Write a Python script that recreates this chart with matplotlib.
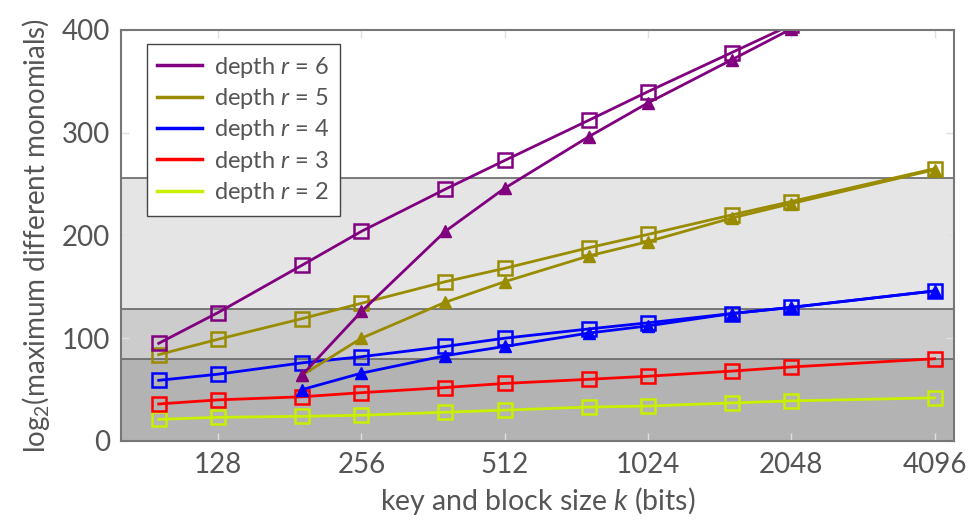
import matplotlib
matplotlib.use('Agg')
import matplotlib.pyplot as plt
from matplotlib.lines import Line2D
from matplotlib.ticker import FixedLocator, FixedFormatter, NullLocator

plt.rcParams['font.family'] = ['Lato', 'DejaVu Sans']
plt.rcParams['mathtext.fontset'] = 'custom'
plt.rcParams['mathtext.rm'] = 'Lato'
plt.rcParams['mathtext.it'] = 'Lato:italic'

#key sizes
k_sq = [96, 128, 192, 256, 384, 512, 768, 1024, 1536, 2048, 4096]
k_tri = [192, 256, 384, 512, 768, 1024, 1536, 2048, 4096]

#log2 of max different monomials
d6_sq = [95, 125, 171, 204, 245, 273, 312, 340, 378, 405, 480]
d6_tri = [64, 126, 204, 246, 296, 329, 371, 401, 478]
d5_sq = [84, 99, 119, 134, 155, 168, 188, 201, 220, 233, 265]
d5_tri = [64, 100, 135, 155, 180, 194, 217, 231, 264]
d4_sq = [59, 65, 76, 82, 92, 100, 109, 115, 124, 130, 146]
d4_tri = [50, 66, 83, 92, 105, 112, 124, 130, 146]
d3_sq = [36, 40, 43, 47, 52, 56, 60, 63, 68, 72, 80]
d2_sq = [21, 23, 24, 25, 28, 30, 33, 34, 37, 39, 42]

x_ticks = [128, 256, 512, 1024, 2048, 4096]
y_ticks = [0, 100, 200, 300, 400]
bands = [0, 80, 128, 256]
band_colors = ['#b3b3b3', '#cccccc', '#e5e5e5']

c6 = '#800080'
c5 = '#998c00'
c4 = '#0000ff'
c3 = '#ff0000'
c2 = '#c8f000'
text_c = '#555555'

fig = plt.figure(figsize=(9.71, 5.21), dpi=100)
ax = fig.add_axes([0.1246, 0.1536, 0.858, 0.789])

#security level bands
for i in range(len(band_colors)):
    ax.axhspan(bands[i], bands[i+1], color=band_colors[i], zorder=0, lw=0)
for b in bands[1:]:
    ax.axhline(b, color='#666666', lw=1.2, zorder=1)

lw = 2.0
sq = dict(marker='s', ms=9.5, mfc='none', mew=1.8, lw=lw, zorder=3)
tri = dict(marker='^', ms=8.5, lw=lw, zorder=3)

ax.plot(k_sq, d2_sq, color=c2, mec=c2, **sq)
ax.plot(k_sq, d3_sq, color=c3, mec=c3, **sq)
ax.plot(k_sq, d4_sq, color=c4, mec=c4, **sq)
ax.plot(k_tri, d4_tri, color=c4, **tri)
ax.plot(k_sq, d5_sq, color=c5, mec=c5, **sq)
ax.plot(k_tri, d5_tri, color=c5, **tri)
ax.plot(k_sq, d6_sq, color=c6, mec=c6, **sq)
ax.plot(k_tri, d6_tri, color=c6, **tri)

ax.set_xscale('log', base=2)
ax.set_xlim(80, 4500)
ax.set_ylim(0, 400)
ax.xaxis.set_major_locator(FixedLocator(x_ticks))
ax.xaxis.set_major_formatter(FixedFormatter([str(t) for t in x_ticks]))
ax.xaxis.set_minor_locator(NullLocator())
ax.set_yticks(y_ticks)

ax.tick_params(direction='in', top=True, right=True, length=6, width=1,
               color='#e0e0e0', labelsize=20, labelcolor=text_c, pad=8)
for s in ax.spines.values():
    s.set_color('#777777')
    s.set_linewidth(1.5)
    s.set_zorder(5)

ax.set_xlabel('key and block size $k$ (bits)', fontsize=20.5, color=text_c, labelpad=5)
ax.set_ylabel('log$_2$(maximum different monomials)', fontsize=20, color=text_c, labelpad=7)

#legend shows plain lines only
handles = [Line2D([], [], color=c, lw=2.5) for c in [c6, c5, c4, c3, c2]]
labels = ['depth $r$ = %d' % d for d in [6, 5, 4, 3, 2]]
leg = ax.legend(handles, labels, loc='upper left', bbox_to_anchor=(0.031, 0.966),
                borderaxespad=0, fontsize=17, fancybox=False, framealpha=1,
                edgecolor='#444444', handlelength=1.9, labelspacing=0.27,
                handletextpad=0.5, borderpad=0.45, labelcolor=text_c)
leg.get_frame().set_linewidth(1.0)
leg.set_zorder(6)

fig.savefig('out.png', dpi=100)
